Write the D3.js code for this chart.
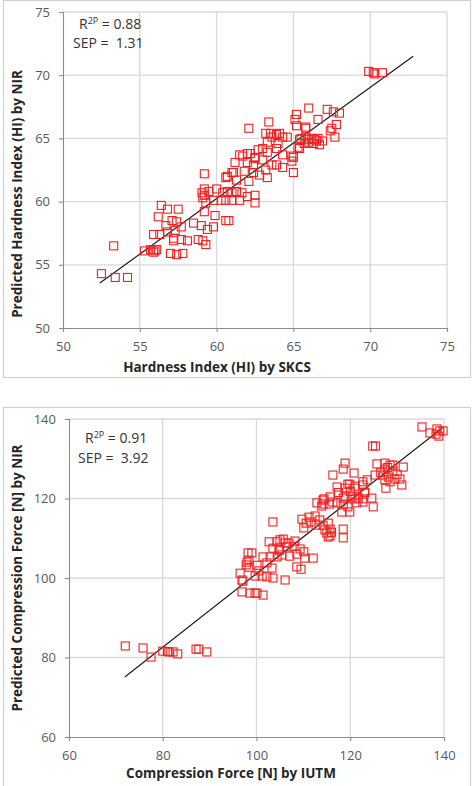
<!DOCTYPE html>
<html>
<head>
<meta charset="utf-8">
<script src="https://cdn.jsdelivr.net/npm/d3@7"></script>
<style>
    body { margin: 0; background: #fff; }
    svg { display: block; }
</style>
</head>
<body>
<div id="chart"></div>
<script>
// hardness index: [SKCS, NIR prediction]
var hardnessPoints = [
    [52.5,54.3],[53.4,54.0],[54.2,54.0],[53.3,56.5],
    [55.3,56.1],[55.7,56.2],[56.0,56.1],[56.1,56.2],[55.9,56.0],
    [57.0,55.9],[57.4,55.8],[57.8,55.9],
    [56.4,59.7],[56.8,59.4],[57.5,59.4],[56.2,58.8],[57.1,58.5],[57.4,58.4],[56.7,58.1],[57.7,58.0],
    [57.3,57.7],[56.8,57.6],[55.9,57.4],[56.3,57.4],[57.2,57.1],[57.7,57.0],[58.1,56.9],[57.2,56.9],
    [58.5,58.3],[59.0,58.1],[59.4,57.8],[59.8,58.0],[59.9,58.9],[59.2,59.2],[58.8,57.0],[59.1,56.9],
    [59.3,56.6],[60.6,58.5],[60.8,58.5],
    [59.2,62.2],[60.6,61.9],[61.0,62.3],[59.2,60.5],[59.05,60.7],[59.2,61.0],[59.5,60.8],[60.0,61.0],
    [60.4,60.7],[60.7,60.8],[61.0,60.7],[61.3,60.8],[61.65,60.7],[61.5,60.1],[61.0,60.1],[60.6,60.1],
    [60.3,60.1],[59.8,60.1],[59.3,59.9],[59.1,60.3],[62.5,60.5],[62.5,59.9],[62.0,60.4],
    [61.2,63.1],[61.5,63.7],[62.0,63.8],[62.0,63.1],[62.5,63.5],[62.4,62.9],[62.1,61.6],[61.3,61.7],
    [60.7,62.0],[61.1,62.3],[61.8,62.4],[62.4,62.3],[62.8,62.1],[63.2,62.5],[63.3,61.9],
    [62.1,65.8],[63.4,66.3],[62.2,63.8],[61.7,63.6],[62.5,63.4],[63.0,63.3],[63.6,62.9],[63.9,62.9],
    [64.3,62.7],[64.9,63.2],[65.0,62.3],[62.7,64.1],[63.0,64.2],[63.3,63.9],[63.9,64.2],[64.3,63.7],
    [64.9,63.6],[63.3,64.7],[64.0,64.6],[65.3,64.3],[65.4,64.2],[65.0,63.5],
    [63.2,65.4],[63.5,65.4],[64.1,65.4],[64.3,65.1],[64.6,65.1],[63.6,65.1],[63.9,65.3],
    [65.2,66.9],[65.1,66.5],[65.2,66.0],[65.8,65.8],[65.8,65.9],[66.0,67.4],[67.2,67.3],[67.6,67.1],
    [68.0,67.0],[66.6,66.5],[67.8,66.1],[67.5,65.8],[67.4,65.6],[67.7,65.1],
    [65.5,65.0],[65.8,65.1],[66.0,64.9],[66.2,65.0],[66.4,64.9],[66.6,65.0],[66.7,64.5],[66.0,64.7],
    [65.7,64.6],[66.3,64.6],[66.5,64.8],[65.4,64.9],[66.9,64.8],
    [69.9,70.3],[70.2,70.2],[70.3,70.1],[70.8,70.2]
];
var hardnessTicks = [50, 55, 60, 65, 70, 75];
var hardnessFit = [7.5, 0.879];          // intercept, slope
var hardnessFitRange = [52.4, 72.8];
var hardnessStats = ["0.88", "1.31"];    // R2P, SEP

// compression force: [IUTM, NIR prediction]
var compressionPoints = [
    [72.0,82.9],[75.8,82.4],[77.5,80.1],[80.0,81.6],[81.3,81.4],[82.2,81.4],[83.2,80.9],[81.0,81.5],
    [87.1,82.1],[87.7,82.1],[89.4,81.4],
    [96.5,101.2],[97.1,99.2],[96.9,99.5],[96.9,96.5],[98.6,96.2],[99.7,96.2],[100.1,96.2],[101.4,95.7],
    [98.4,102.7],[100.1,103.2],[103.3,102.5],[101.2,100.5],[102.2,100.3],[103.5,100.0],[106.1,99.5],
    [108.6,102.8],[109.5,102.2],[98.0,104.0],[99.7,100.5],[98.2,106.3],[99.0,106.3],[98.4,104.5],
    [97.8,103.3],[100.5,101.8],[102.2,103.8],
    [101.4,105.3],[102.9,105.3],[104.4,105.3],[105.4,105.8],[107.1,105.5],[108.6,106.0],[110.3,105.0],
    [112.1,105.0],[102.7,109.1],[104.4,109.1],[105.0,109.6],[105.7,109.8],[106.1,108.8],[106.9,108.8],
    [108.2,109.3],[103.5,107.5],[104.8,107.3],[106.5,107.8],[108.0,108.0],[109.3,107.3],[110.1,106.6],
    [103.5,114.1],[104.9,107.0],
    [109.7,114.8],[111.2,115.3],[112.5,115.6],[113.5,114.6],[110.6,113.8],[111.6,114.1],[112.7,113.3],
    [114.2,113.3],[115.3,113.8],[110.1,112.6],[114.6,112.1],[115.7,112.3],[115.0,111.3],[115.7,110.6],
    [115.3,110.3],[118.5,112.3],[118.5,110.1],[116.0,111.5],
    [112.9,118.9],[114.2,118.6],[115.5,118.6],[117.2,118.9],[118.5,118.4],[118.2,116.6],[119.9,116.6],
    [119.5,117.9],[121.4,118.9],[122.7,119.1],[114.4,119.9],[115.7,120.4],[116.3,119.1],[114.2,119.6],
    [113.9,118.1],[118.9,120.6],[120.4,120.4],[121.7,120.1],[123.1,121.4],[117.2,122.9],[119.5,123.6],
    [121.0,123.1],[122.7,124.2],[119.9,123.6],[118.9,122.6],[121.0,122.6],[122.7,123.4],[123.6,124.7],
    [123.1,121.6],[121.0,119.9],[122.7,119.9],[124.6,120.1],[124.9,117.9],[118.5,120.1],[117.5,121.5],
    [120.0,121.8],
    [116.3,125.9],[118.5,127.4],[118.9,128.9],[120.8,126.4],[124.8,133.2],[125.4,133.2],[125.7,128.7],
    [127.4,128.9],[128.5,128.4],[129.1,128.4],[131.3,127.9],[127.4,127.4],[129.1,126.9],[125.3,125.9],
    [127.0,125.9],[128.1,125.4],[129.5,124.9],[130.6,124.9],[131.0,123.4],[127.4,124.7],[128.5,124.2],
    [127.6,122.6],[126.5,126.5],[128.0,127.8],[130.0,126.0],
    [135.3,138.0],[137.0,136.5],[138.5,137.5],[139.1,137.0],[139.8,137.0],[138.9,135.7],[138.3,136.2]
];
var compressionTicks = [60, 80, 100, 120, 140];
var compressionFit = [8.59, 0.925];
var compressionFitRange = [71.9, 139.7];
var compressionStats = ["0.91", "3.92"];

var W = 476, H = 786;
var FONT = "'Open Sans', 'Liberation Sans', sans-serif";

var svg = d3.select("#chart")
    .append("svg")
    .attr("width", W)
    .attr("height", H);

function drawPanel(p) {
    var g = svg.append("g");

    // outer frame
    g.append("rect")
        .attr("x", p.box[0] + 0.5)
        .attr("y", p.box[1] + 0.5)
        .attr("width", p.box[2])
        .attr("height", p.box[3])
        .attr("fill", "#fff")
        .attr("stroke", "#d0d0d0")
        .attr("stroke-width", 1.2);

    var x = d3.scaleLinear()
        .domain(d3.extent(p.ticks))
        .range([p.plot.left, p.plot.right]);
    var y = d3.scaleLinear()
        .domain(d3.extent(p.ticks))
        .range([p.plot.bottom, p.plot.top]);

    // grid
    g.append("g")
        .selectAll("line.v")
        .data(p.ticks.slice(1))
        .enter().append("line")
        .attr("x1", function(d) {return x(d)})
        .attr("x2", function(d) {return x(d)})
        .attr("y1", p.plot.top)
        .attr("y2", p.plot.bottom)
        .attr("stroke", "#d9d9d9")
        .attr("stroke-width", 1.3);
    g.append("g")
        .selectAll("line.h")
        .data(p.ticks.slice(1))
        .enter().append("line")
        .attr("x1", p.plot.left)
        .attr("x2", p.plot.right)
        .attr("y1", function(d) {return y(d)})
        .attr("y2", function(d) {return y(d)})
        .attr("stroke", "#d9d9d9")
        .attr("stroke-width", 1.3);

    // axes
    var xAxis = g.append("g")
        .attr("transform", "translate(0," + p.plot.bottom + ")")
        .call(d3.axisBottom(x).tickValues(p.ticks).tickSize(4).tickPadding(10));
    var yAxis = g.append("g")
        .attr("transform", "translate(" + p.plot.left + ",0)")
        .call(d3.axisLeft(y).tickValues(p.ticks).tickSize(4).tickPadding(9));
    [xAxis, yAxis].forEach(function(a) {
        a.selectAll("path, line").attr("stroke", "#8c8c8c").attr("stroke-width", 1.1);
        a.selectAll("text")
            .attr("fill", "#595959")
            .style("font-family", FONT)
            .style("font-size", "13px");
    });

    // regression line
    g.append("path")
        .datum(p.fitRange)
        .attr("fill", "none")
        .attr("stroke", "#1a1a1a")
        .attr("stroke-width", 1.2)
        .attr("d", d3.line()
            .x(function(d) {return x(d)})
            .y(function(d) {return y(p.fit[0] + p.fit[1] * d)})
        );

    // points
    var s = 8;
    g.append("g")
        .selectAll("rect")
        .data(p.points)
        .enter().append("rect")
        .attr("x", function(d) {return x(d[0]) - s / 2})
        .attr("y", function(d) {return y(d[1]) - s / 2})
        .attr("width", s)
        .attr("height", s)
        .attr("fill", "none")
        .attr("stroke", "#f02020")
        .attr("stroke-width", 1.1);

    // axis titles
    g.append("text")
        .attr("x", p.xTitle[0])
        .attr("y", p.xTitle[1])
        .attr("text-anchor", "middle")
        .style("font-family", FONT)
        .style("font-weight", "bold")
        .style("font-size", "13.5px")
        .attr("fill", "#262626")
        .text(p.xLabel);
    g.append("text")
        .attr("transform", "translate(" + p.yTitle[0] + "," + p.yTitle[1] + ") rotate(-90)")
        .attr("text-anchor", "middle")
        .style("font-family", FONT)
        .style("font-weight", "bold")
        .style("font-size", "13.5px")
        .attr("fill", "#262626")
        .text(p.yLabel);

    // stats
    var r2 = g.append("text")
        .attr("x", p.stats[0])
        .attr("y", p.stats[1])
        .style("font-family", FONT)
        .style("font-size", "14px")
        .attr("fill", "#333");
    r2.append("tspan").text("R");
    r2.append("tspan").attr("dy", -5).style("font-size", "9px").text("2P");
    r2.append("tspan").attr("dy", 5).text(" = " + p.statVals[0]);
    g.append("text")
        .attr("x", p.stats[2])
        .attr("y", p.stats[3])
        .style("font-family", FONT)
        .style("font-size", "14px")
        .style("white-space", "pre")
        .attr("fill", "#333")
        .text("SEP =  " + p.statVals[1]);
}

drawPanel({
    box: [3, 0, 467, 377],
    plot: {left: 63, right: 447, top: 12, bottom: 328},
    ticks: hardnessTicks,
    points: hardnessPoints,
    fit: hardnessFit,
    fitRange: hardnessFitRange,
    statVals: hardnessStats,
    stats: [79, 29, 73, 48],
    xLabel: "Hardness Index (HI) by SKCS",
    yLabel: "Predicted Hardness Index (HI) by NIR",
    xTitle: [217, 372],
    yTitle: [22, 194]
});

drawPanel({
    box: [3, 407, 467, 385],
    plot: {left: 69, right: 444, top: 419, bottom: 737},
    ticks: compressionTicks,
    points: compressionPoints,
    fit: compressionFit,
    fitRange: compressionFitRange,
    statVals: compressionStats,
    stats: [85, 443, 78, 463],
    xLabel: "Compression Force [N] by IUTM",
    yLabel: "Predicted Compression Force [N] by NIR",
    xTitle: [231, 778],
    yTitle: [22, 578]
});
</script>
</body>
</html>
